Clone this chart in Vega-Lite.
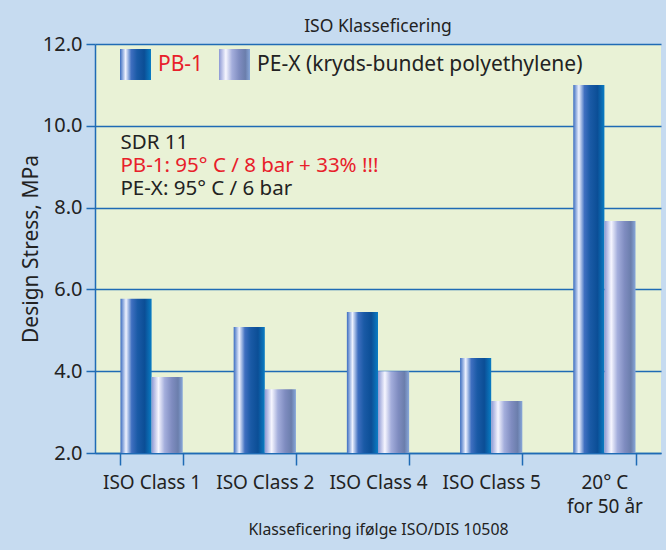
{
  "$schema": "https://vega.github.io/schema/vega-lite/v6.json",
  "width": 566,
  "height": 409,
  "autosize": "none",
  "padding": {"left": 95, "top": 44, "right": 5, "bottom": 97},
  "background": "#c6dbf0",
  "title": {"text": "ISO Klasseficering", "fontSize": 17.5, "font": "Noto Sans", "fontWeight": "normal", "color": "#222222", "offset": -1, "anchor": "middle"},
  "config": {
    "view": {"fill": "#e9f2d6", "stroke": null},
    "font": "Noto Sans"
  },
  "resolve": {"scale": {"shape": "independent"}, "legend": {"shape": "independent"}},
  "data": {
    "values": [
      {"cat": "ISO Class 1", "series": "PB-1", "v": 5.77},
      {"cat": "ISO Class 1", "series": "PE-X (kryds-bundet polyethylene)", "v": 3.86},
      {"cat": "ISO Class 2", "series": "PB-1", "v": 5.08},
      {"cat": "ISO Class 2", "series": "PE-X (kryds-bundet polyethylene)", "v": 3.56},
      {"cat": "ISO Class 4", "series": "PB-1", "v": 5.45},
      {"cat": "ISO Class 4", "series": "PE-X (kryds-bundet polyethylene)", "v": 4.0},
      {"cat": "ISO Class 5", "series": "PB-1", "v": 4.32},
      {"cat": "ISO Class 5", "series": "PE-X (kryds-bundet polyethylene)", "v": 3.27},
      {"cat": "20° C for 50 år", "series": "PB-1", "v": 11.0},
      {"cat": "20° C for 50 år", "series": "PE-X (kryds-bundet polyethylene)", "v": 7.67}
    ]
  },
  "encoding": {
    "x": {
      "field": "cat", "type": "nominal", "sort": null,
      "scale": {"paddingInner": 0.45, "paddingOuter": 0.225},
      "axis": {
        "domainColor": "#1f6bb5", "domainWidth": 1.5, "tickColor": "#1f6bb5", "tickWidth": 1.5, "tickSize": 12,
        "tickBand": "extent", "labelAngle": 0, "labelFontSize": 19, "labelColor": "#222222", "labelPadding": 8,
        "labelLineHeight": 24,
        "labelExpr": "datum.value == '20° C for 50 år' ? ['20° C', 'for 50 år'] : datum.value",
        "title": "Klasseficering ifølge ISO/DIS 10508", "titleFontSize": 15.8, "titleFontWeight": "normal",
        "titleColor": "#222222", "titlePadding": 6, "grid": false
      }
    },
    "y": {
      "type": "quantitative",
      "scale": {"domain": [2, 12], "zero": false, "nice": false}
    }
  },
  "layer": [
    {
      "mark": {"type": "bar", "strokeWidth": 0},
      "encoding": {
        "xOffset": {"field": "series", "type": "nominal", "sort": ["PB-1", "PE-X (kryds-bundet polyethylene)"], "scale": {"paddingInner": 0, "paddingOuter": 0}},
        "y": {
          "field": "v", "type": "quantitative",
          "axis": {
            "values": [2, 4, 6, 8, 10, 12], "format": ".1f", "labelFontSize": 20, "labelColor": "#222222",
            "tickSize": 9, "tickColor": "#1f6bb5", "tickWidth": 1.5, "domainColor": "#1f6bb5", "domainWidth": 1.5,
            "grid": true, "gridColor": "#1f6bb5", "gridWidth": 1.5, "gridOpacity": 1, "labelPadding": 4,
            "title": "Design Stress, MPa", "titleFontSize": 21, "titleFontWeight": "normal", "titleColor": "#222222", "titlePadding": 1
          }
        },
        "y2": {"datum": 2},
        "fill": {
          "condition": {"test": "datum.series == 'PB-1'",
            "value": {"gradient": "linear", "x1": 0, "y1": 0, "x2": 1, "y2": 0, "stops": [
                {"offset": 0, "color": "#3a6cc0"}, {"offset": 0.18, "color": "#eef2ff"}, {"offset": 0.36, "color": "#3f6fc0"},
                {"offset": 0.55, "color": "#1a5aa6"}, {"offset": 0.78, "color": "#0b4e96"}, {"offset": 1, "color": "#0a7dc4"}]}},
          "value": {"gradient": "linear", "x1": 0, "y1": 0, "x2": 1, "y2": 0, "stops": [
                {"offset": 0, "color": "#8c98d4"}, {"offset": 0.22, "color": "#f6f6ff"}, {"offset": 0.42, "color": "#a4aedc"},
                {"offset": 0.65, "color": "#7f8cc0"}, {"offset": 0.85, "color": "#6b7eac"}, {"offset": 1, "color": "#88a8da"}]}
        }
      }
    },
    {
      "transform": [{"filter": "datum.series == 'PB-1'"}],
      "mark": {"type": "point", "filled": true, "opacity": 0, "strokeWidth": 0,
        "fill": {"gradient": "linear", "x1": 0, "y1": 0, "x2": 1, "y2": 0, "stops": [
                {"offset": 0, "color": "#3a6cc0"}, {"offset": 0.18, "color": "#eef2ff"}, {"offset": 0.36, "color": "#3f6fc0"},
                {"offset": 0.55, "color": "#1a5aa6"}, {"offset": 0.78, "color": "#0b4e96"}, {"offset": 1, "color": "#0a7dc4"}]}},
      "encoding": {
        "y": {"field": "v", "type": "quantitative"},
        "shape": {
          "field": "series", "type": "nominal",
          "scale": {"range": ["square"]},
          "legend": {
            "orient": "none", "legendX": 25, "legendY": 5, "direction": "horizontal", "title": null,
            "symbolSize": 961, "symbolStrokeWidth": 0, "symbolOpacity": 1,
            "labelFontSize": 21, "labelOffset": 7, "labelColor": "#e8202a", "labelLimit": 0
          }
        }
      }
    },
    {
      "transform": [{"filter": "datum.series != 'PB-1'"}],
      "mark": {"type": "point", "filled": true, "opacity": 0, "strokeWidth": 0,
        "fill": {"gradient": "linear", "x1": 0, "y1": 0, "x2": 1, "y2": 0, "stops": [
                {"offset": 0, "color": "#8c98d4"}, {"offset": 0.22, "color": "#f6f6ff"}, {"offset": 0.42, "color": "#a4aedc"},
                {"offset": 0.65, "color": "#7f8cc0"}, {"offset": 0.85, "color": "#6b7eac"}, {"offset": 1, "color": "#88a8da"}]}},
      "encoding": {
        "y": {"field": "v", "type": "quantitative"},
        "shape": {
          "field": "series", "type": "nominal",
          "scale": {"range": ["square"]},
          "legend": {
            "orient": "none", "legendX": 124, "legendY": 5, "direction": "horizontal", "title": null,
            "symbolSize": 961, "symbolStrokeWidth": 0, "symbolOpacity": 1,
            "labelFontSize": 21, "labelOffset": 7, "labelColor": "#222222", "labelLimit": 0
          }
        }
      }
    },
    {
      "data": {"values": [{"t": "SDR 11", "c": "k", "p": 9.58}, {"t": "PB-1: 95° C / 8 bar + 33% !!!", "c": "r", "p": 9.02}, {"t": "PE-X: 95° C / 6 bar", "c": "k", "p": 8.45}]},
      "mark": {"type": "text", "align": "left", "baseline": "middle", "fontSize": 20.5},
      "encoding": {
        "x": {"datum": "ISO Class 1", "type": "nominal", "bandPosition": 0},
        "y": {"field": "p", "type": "quantitative"},
        "text": {"field": "t"},
        "color": {"condition": {"test": "datum.c == 'r'", "value": "#e8202a"}, "value": "#222222"}
      }
    }
  ]
}
